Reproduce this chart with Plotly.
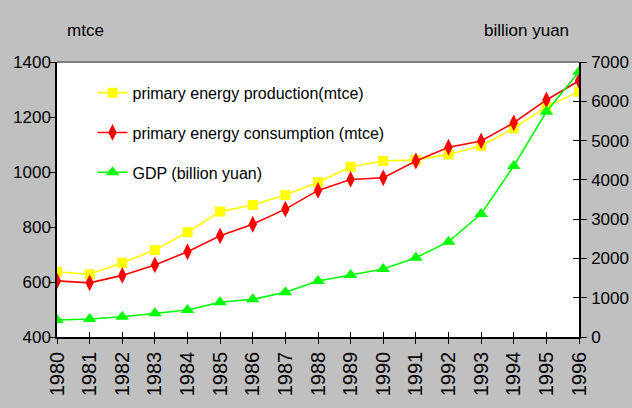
import plotly.graph_objects as go

# Annual series, 1980-1996
years = list(range(1980, 1997))
production_mtce = [637, 628, 670, 716, 781, 856, 880, 916, 963, 1019, 1040, 1044,
                   1064, 1095, 1159, 1237, 1292]
consumption_mtce = [604, 597, 624, 662, 710, 768, 810, 865, 933, 973, 979, 1040,
                    1090, 1113, 1179, 1262, 1332]
gdp_billion_yuan = [433, 458, 517, 603, 687, 883, 959, 1137, 1425, 1578, 1731, 2019,
                    2426, 3131, 4352, 5734, 6752]

FONT = "Liberation Sans, Arial, sans-serif"

fig = go.Figure()
fig.add_trace(go.Scatter(
    x=years, y=production_mtce, name="primary energy production(mtce)",
    mode="lines+markers", legendgroup="a",
    line=dict(color="#ffff00", width=1.6),
    marker=dict(symbol="square", size=10, color="#ffff00")))
fig.add_trace(go.Scatter(
    x=years, y=consumption_mtce, name="primary energy consumption (mtce)",
    mode="lines+markers", legendgroup="b",
    line=dict(color="#ff0000", width=1.6),
    marker=dict(symbol="diamond-tall", size=12, color="#ff0000")))
fig.add_trace(go.Scatter(
    x=years, y=gdp_billion_yuan, name="GDP (billion yuan)",
    mode="lines+markers", legendgroup="c", yaxis="y2",
    line=dict(color="#00ff00", width=1.6),
    marker=dict(symbol="triangle-up", size=12, color="#00ff00")))

# invisible companion so the overlay axes carrying the inward tick halves get drawn
fig.add_trace(go.Scatter(x=years, y=gdp_billion_yuan, xaxis="x2", yaxis="y3",
                         mode="markers", marker=dict(opacity=0), showlegend=False,
                         hoverinfo="skip"))

fig.update_layout(
    width=632, height=408,
    margin=dict(l=57, r=53, t=62, b=71, autoexpand=False),
    paper_bgcolor="#c0c0c0", plot_bgcolor="#ffffff",
    font=dict(family=FONT, size=16, color="#000000"),
    showlegend=True,
    legend=dict(x=0.068, y=0.95, xanchor="left", yanchor="top",
                bgcolor="rgba(0,0,0,0)", traceorder="grouped",
                tracegroupgap=16, font=dict(size=16, family=FONT)),
    xaxis=dict(range=[1980, 1996], tickmode="array", tickvals=years,
               ticktext=[str(y) for y in years], tickangle=-90,
               automargin=False,
               showgrid=False, zeroline=False, showline=True,
               linecolor="#000000", linewidth=1.5,
               ticks="outside", ticklen=5, tickcolor="#000000",
               tickfont=dict(size=20, family=FONT)),
    xaxis2=dict(range=[1980, 1996], tickmode="array", tickvals=years,
                overlaying="x", anchor="y", side="bottom", automargin=False,
                showticklabels=False, showgrid=False, zeroline=False,
                showline=False, ticks="inside", ticklen=5, tickcolor="#000000"),
    yaxis=dict(range=[400, 1400], dtick=200, showgrid=False, zeroline=False,
               automargin=False,
               showline=True, linecolor="#000000", linewidth=1.5,
               ticks="outside", ticklen=6, tickcolor="#000000",
               ticklabelstandoff=-5,
               tickfont=dict(size=17, family=FONT)),
    yaxis2=dict(range=[0, 7000], dtick=1000, overlaying="y", side="right",
                automargin=False,
                showgrid=False, zeroline=False, showline=True,
                linecolor="#000000", linewidth=1.5,
                ticks="outside", ticklen=6, tickcolor="#000000",
                ticklabelstandoff=1,
                tickfont=dict(size=17, family=FONT)),
    yaxis3=dict(range=[0, 7000], dtick=1000, overlaying="y", side="right",
                anchor="x2", automargin=False, showticklabels=False,
                showgrid=False, zeroline=False, showline=False,
                ticks="inside", ticklen=6, tickcolor="#000000"),
    shapes=[dict(type="line", xref="paper", yref="paper", x0=0, x1=1, y0=1, y1=1,
                 line=dict(color="#808080", width=2))],
    annotations=[
        dict(text="mtce", xref="paper", yref="paper", x=0.015, y=1.115,
             xanchor="left", yanchor="middle", showarrow=False,
             font=dict(size=17, family=FONT)),
        dict(text="billion yuan", xref="paper", yref="paper", x=0.985, y=1.115,
             xanchor="right", yanchor="middle", showarrow=False,
             font=dict(size=17, family=FONT)),
    ],
)

fig.write_html("out.html")
